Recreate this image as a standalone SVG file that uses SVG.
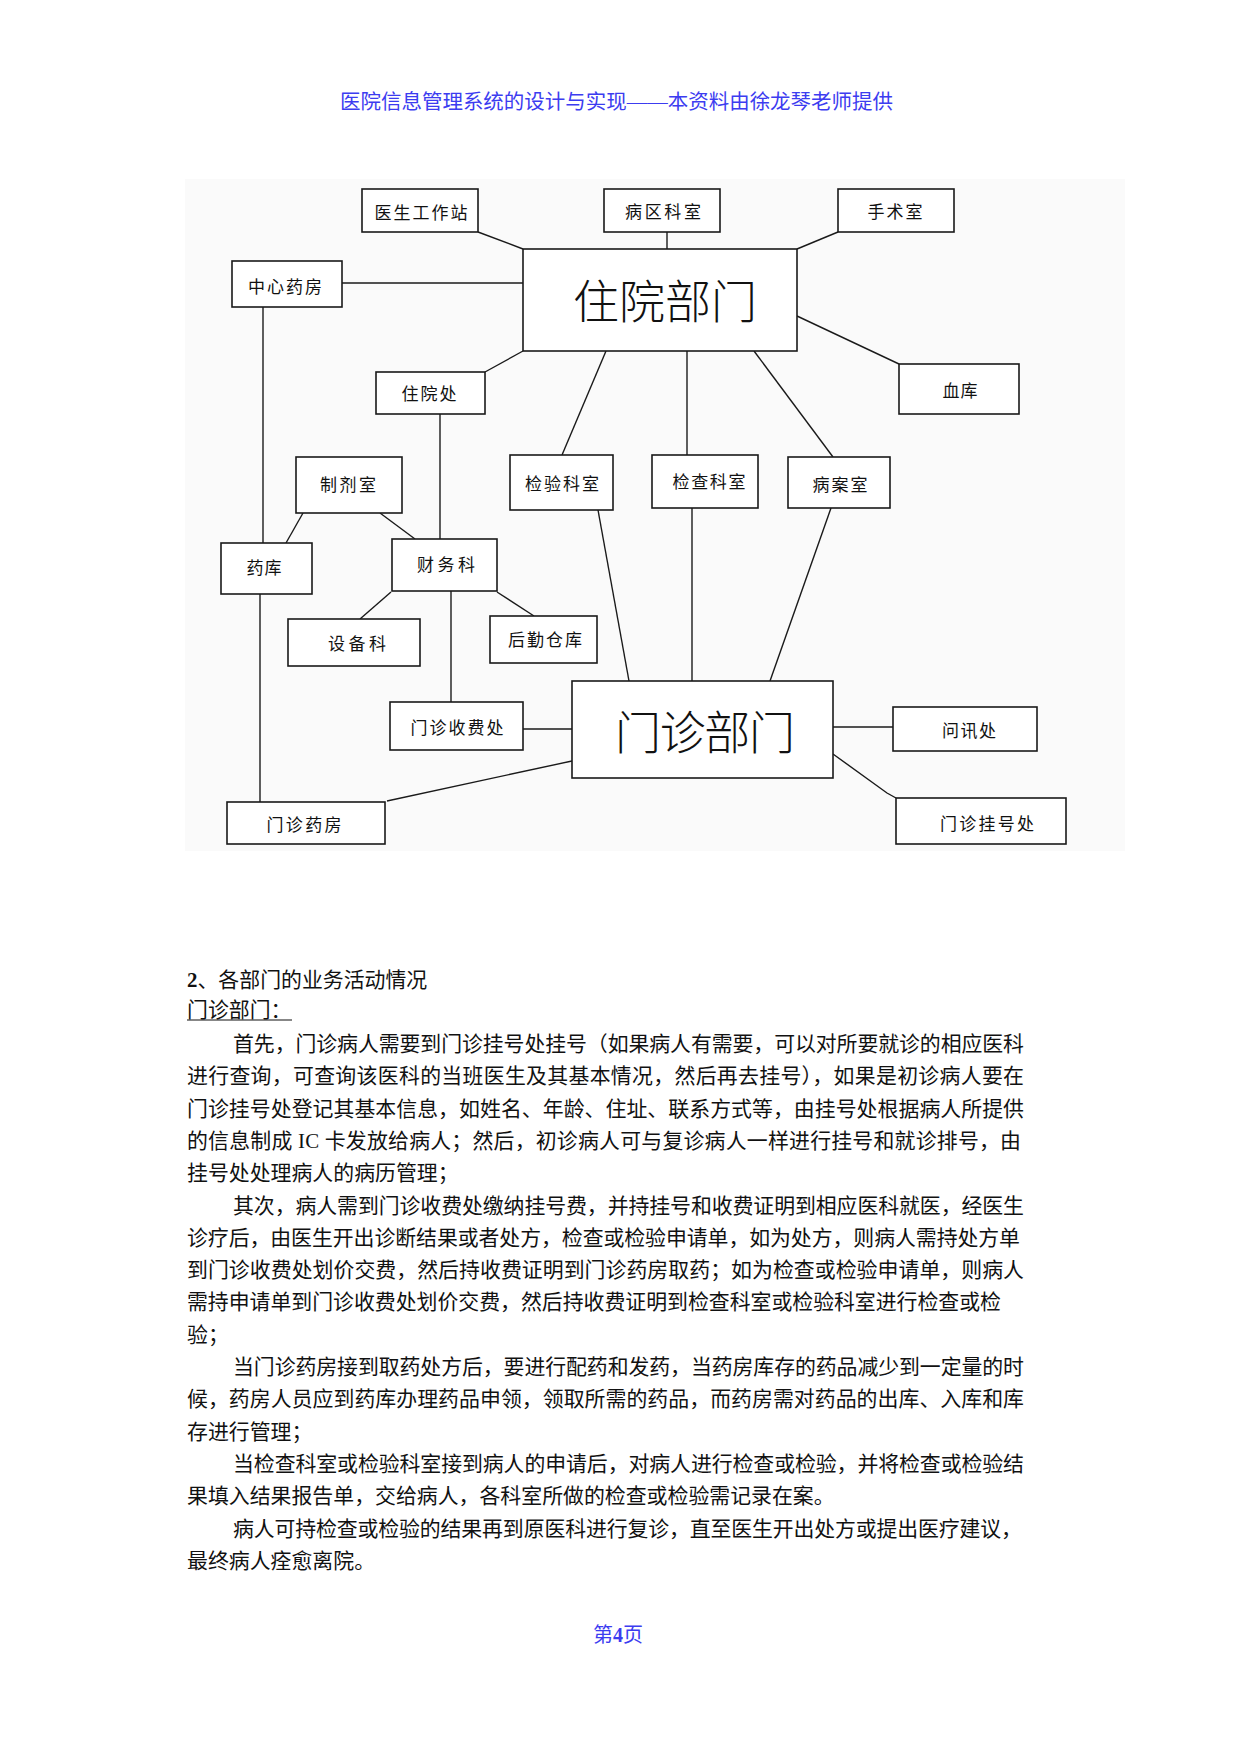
<svg xmlns="http://www.w3.org/2000/svg" width="1241" height="1754" viewBox="0 0 1241 1754">
<style>
.box{fill:#fff;stroke:#1a1a1a;stroke-width:1.6}
.lbl{font-family:"Noto Sans CJK SC","Noto Sans",sans-serif;font-size:17px;fill:#111;text-anchor:middle;dominant-baseline:central}
.big{font-size:46px;font-weight:300}
#connectors line,#connectors polyline{stroke:#1a1a1a;stroke-width:1.4;fill:none}
.hdr{font-family:"Liberation Serif","Noto Sans CJK SC",serif;fill:#3c3cf0;dominant-baseline:central}
.body{font-family:"Liberation Serif","Noto Sans CJK SC",serif;font-size:20.9px;fill:#111;dominant-baseline:central}
</style>
<rect width="1241" height="1754" fill="#fff"/>
<text class="hdr" x="340" y="102" font-size="20.5" textLength="553" lengthAdjust="spacingAndGlyphs">医院信息管理系统的设计与实现——本资料由徐龙琴老师提供</text>
<rect x="185" y="179" width="940" height="672" fill="#fafafa"/>
<g id="connectors">
<line x1="478" y1="232" x2="523" y2="249"/>
<line x1="667" y1="232" x2="667" y2="249"/>
<line x1="838" y1="232" x2="797" y2="249"/>
<line x1="342" y1="283" x2="523" y2="283"/>
<line x1="263" y1="307" x2="263" y2="543"/>
<line x1="485" y1="372" x2="523" y2="351"/>
<line x1="797" y1="316" x2="899" y2="364"/>
<line x1="440" y1="414" x2="440" y2="539"/>
<line x1="606" y1="351" x2="562" y2="455"/>
<line x1="687" y1="351" x2="687" y2="455"/>
<line x1="754" y1="351" x2="833" y2="457"/>
<line x1="303" y1="513" x2="286" y2="543"/>
<line x1="380" y1="513" x2="415" y2="539"/>
<line x1="391" y1="592" x2="360" y2="619"/>
<line x1="497" y1="592" x2="534" y2="616"/>
<line x1="451" y1="591" x2="451" y2="702"/>
<line x1="260" y1="594" x2="260" y2="802"/>
<line x1="523" y1="729" x2="572" y2="729"/>
<line x1="387" y1="801" x2="572" y2="761"/>
<line x1="598" y1="510" x2="629" y2="681"/>
<line x1="692" y1="508" x2="692" y2="681"/>
<line x1="831" y1="508" x2="770" y2="681"/>
<line x1="833" y1="727" x2="893" y2="727"/>
<polyline points="833,754 887,793 896,798"/>
</g>
<g id="n-yishenggongzuozhan"><rect class="box" x="362" y="189" width="116" height="43"/><text class="lbl" x="421" y="211" textLength="93">医生工作站</text></g>
<g id="n-bingqukeshi"><rect class="box" x="604" y="189" width="116" height="43"/><text class="lbl" x="663" y="210" textLength="76">病区科室</text></g>
<g id="n-shoushushi"><rect class="box" x="838" y="189" width="116" height="43"/><text class="lbl" x="895" y="210" textLength="55">手术室</text></g>
<g id="n-zhongxinyaofang"><rect class="box" x="232" y="261" width="110" height="46"/><text class="lbl" x="285" y="285" textLength="74">中心药房</text></g>
<g id="n-zhuyuanbumen"><rect class="box" x="523" y="249" width="274" height="102"/><text class="lbl big" x="665" y="298" textLength="184">住院部门</text></g>
<g id="n-xueku"><rect class="box" x="899" y="364" width="120" height="50"/><text class="lbl" x="960" y="389" textLength="35">血库</text></g>
<g id="n-zhuyuanchu"><rect class="box" x="376" y="372" width="109" height="42"/><text class="lbl" x="429" y="392" textLength="55">住院处</text></g>
<g id="n-jianyankeshi"><rect class="box" x="510" y="455" width="103" height="55"/><text class="lbl" x="562" y="482" textLength="74">检验科室</text></g>
<g id="n-jianchakeshi"><rect class="box" x="652" y="455" width="106" height="53"/><text class="lbl" x="709" y="480" textLength="73">检查科室</text></g>
<g id="n-binganshi"><rect class="box" x="788" y="457" width="102" height="51"/><text class="lbl" x="840" y="483" textLength="55">病案室</text></g>
<g id="n-zhijishi"><rect class="box" x="296" y="457" width="106" height="56"/><text class="lbl" x="348" y="483" textLength="56">制剂室</text></g>
<g id="n-yaoku"><rect class="box" x="221" y="543" width="91" height="51"/><text class="lbl" x="264" y="566" textLength="35">药库</text></g>
<g id="n-caiwuke"><rect class="box" x="392" y="539" width="105" height="52"/><text class="lbl" x="446" y="563" textLength="58">财务科</text></g>
<g id="n-shebeike"><rect class="box" x="288" y="619" width="132" height="47"/><text class="lbl" x="357" y="642" textLength="58">设备科</text></g>
<g id="n-houqincangku"><rect class="box" x="490" y="616" width="107" height="47"/><text class="lbl" x="545" y="638" textLength="74">后勤仓库</text></g>
<g id="n-menzhenshoufeichu"><rect class="box" x="390" y="702" width="133" height="48"/><text class="lbl" x="457" y="726" textLength="93">门诊收费处</text></g>
<g id="n-menzhenbumen"><rect class="box" x="572" y="681" width="261" height="97"/><text class="lbl big" x="705" y="729" font-size="45" textLength="180">门诊部门</text></g>
<g id="n-wenxunchu"><rect class="box" x="893" y="707" width="144" height="44"/><text class="lbl" x="969" y="729" textLength="54">问讯处</text></g>
<g id="n-menzhenguahaochu"><rect class="box" x="896" y="798" width="170" height="46"/><text class="lbl" x="987" y="822" textLength="94">门诊挂号处</text></g>
<g id="n-menzhenyaofang"><rect class="box" x="227" y="802" width="158" height="42"/><text class="lbl" x="304" y="823" textLength="75">门诊药房</text></g>
<text class="body" x="187" y="980"><tspan font-weight="bold">2</tspan>、各部门的业务活动情况</text>
<text class="body" x="187" y="1010">门诊部门：</text>
<line x1="187" y1="1020" x2="292" y2="1020" stroke="#111" stroke-width="1.2"/>
<text class="body" x="233" y="1044" textLength="791">首先，门诊病人需要到门诊挂号处挂号（如果病人有需要，可以对所要就诊的相应医科</text>
<text class="body" x="187" y="1076.3" textLength="837">进行查询，可查询该医科的当班医生及其基本情况，然后再去挂号），如果是初诊病人要在</text>
<text class="body" x="187" y="1108.6" textLength="837">门诊挂号处登记其基本信息，如姓名、年龄、住址、联系方式等，由挂号处根据病人所提供</text>
<text class="body" x="187" y="1140.9" textLength="834">的信息制成 IC 卡发放给病人；然后，初诊病人可与复诊病人一样进行挂号和就诊排号，由</text>
<text class="body" x="187" y="1173.2">挂号处处理病人的病历管理；</text>
<text class="body" x="233" y="1205.5" textLength="791">其次，病人需到门诊收费处缴纳挂号费，并持挂号和收费证明到相应医科就医，经医生</text>
<text class="body" x="187" y="1237.8" textLength="833">诊疗后，由医生开出诊断结果或者处方，检查或检验申请单，如为处方，则病人需持处方单</text>
<text class="body" x="187" y="1270.1" textLength="837">到门诊收费处划价交费，然后持收费证明到门诊药房取药；如为检查或检验申请单，则病人</text>
<text class="body" x="187" y="1302.4" textLength="814">需持申请单到门诊收费处划价交费，然后持收费证明到检查科室或检验科室进行检查或检</text>
<text class="body" x="187" y="1334.7">验；</text>
<text class="body" x="233" y="1367" textLength="791">当门诊药房接到取药处方后，要进行配药和发药，当药房库存的药品减少到一定量的时</text>
<text class="body" x="187" y="1399.3" textLength="837">候，药房人员应到药库办理药品申领，领取所需的药品，而药房需对药品的出库、入库和库</text>
<text class="body" x="187" y="1431.6">存进行管理；</text>
<text class="body" x="233" y="1463.9" textLength="791">当检查科室或检验科室接到病人的申请后，对病人进行检查或检验，并将检查或检验结</text>
<text class="body" x="187" y="1496.2">果填入结果报告单，交给病人，各科室所做的检查或检验需记录在案。</text>
<text class="body" x="233" y="1528.5" textLength="789">病人可持检查或检验的结果再到原医科进行复诊，直至医生开出处方或提出医疗建议，</text>
<text class="body" x="187" y="1560.8">最终病人痊愈离院。</text>
<text class="hdr" x="618" y="1635" font-size="20" text-anchor="middle">第<tspan font-weight="bold">4</tspan>页</text>
</svg>
